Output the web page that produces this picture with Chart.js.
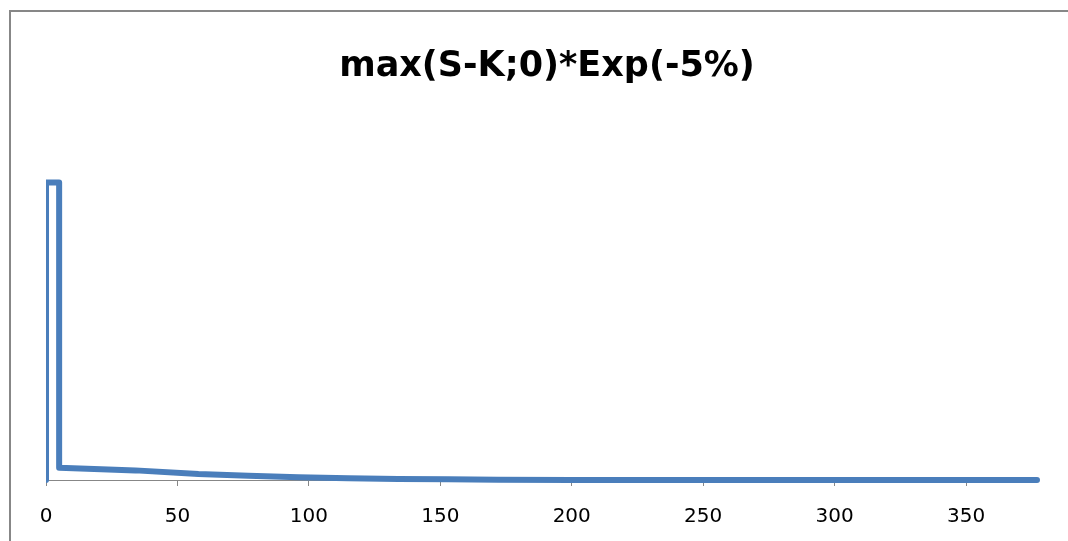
<!DOCTYPE html>
<html>
<head>
<meta charset="utf-8">
<script src="https://cdn.jsdelivr.net/npm/chart.js@4.4.1/dist/chart.umd.min.js"></script>
<style>
  html, body { margin: 0; padding: 0; overflow: hidden; background: #fff; }
  #frame { position: absolute; left: 9px; top: 10px; width: 1059px; height: 531px; border-left: 2px solid #878787; border-top: 2px solid #878787; box-sizing: border-box; }
  #wrap { position: absolute; left: 0; top: 0; width: 1068px; height: 541px; }
</style>
</head>
<body>
<div id="frame"></div>
<div id="wrap"><canvas id="c"></canvas></div>
<script>
// Data
const titleText = 'max(S-K;0)*Exp(-5%)';
const xValues = [0, 0, 5, 5, 21, 34, 58, 77, 96, 115, 134, 153, 172, 200, 250, 300, 377];
const yValues = [0, 80.4, 80.4, 3.3, 2.9, 2.6, 1.6, 1.15, 0.73, 0.46, 0.27, 0.19, 0.08, 0.03, 0.01, 0, 0];
const xTickValues = [0, 50, 100, 150, 200, 250, 300, 350];

const points = xValues.map((x, i) => ({ x: x, y: yValues[i] }));
const fontFamily = '"DejaVu Sans", "Liberation Sans", sans-serif';

new Chart(document.getElementById('c'), {
  type: 'scatter',
  data: {
    datasets: [{
      data: points,
      showLine: true,
      borderColor: '#4A7EBB',
      backgroundColor: '#4A7EBB',
      borderWidth: 6,
      pointRadius: 0,
      pointHoverRadius: 0,
      borderJoinStyle: 'round',
      borderCapStyle: 'round',
      tension: 0,
      clip: { left: 0, top: false, right: false, bottom: false }
    }]
  },
  options: {
    responsive: true,
    maintainAspectRatio: false,
    animation: false,
    events: [],
    layout: { padding: { left: 26, right: 0, top: 0, bottom: 0 } },
    plugins: {
      legend: { display: false },
      tooltip: { enabled: false },
      title: {
        display: true,
        text: titleText,
        color: '#000',
        font: { family: fontFamily, size: 35, weight: 'bold', lineHeight: 1.2 },
        padding: { top: 46, bottom: 22 }
      }
    },
    scales: {
      x: {
        type: 'linear',
        position: 'bottom',
        min: 0,
        max: 377,
        afterBuildTicks: (scale) => { scale.ticks = xTickValues.map(v => ({ value: v })); },
        afterFit: (scale) => { scale.height = 61; },
        grid: { display: true, drawOnChartArea: false, drawTicks: true, tickLength: 6, color: '#878787', lineWidth: 1 },
        border: { display: true, color: '#878787', width: 1 },
        ticks: { color: '#000', padding: 19, maxRotation: 0, autoSkip: false, font: { family: fontFamily, size: 20 } }
      },
      y: {
        position: 'left',
        min: 0,
        max: 100,
        grid: { display: false },
        border: { display: false },
        ticks: { display: false },
        afterFit: (scale) => { scale.width = 20; }
      },
      y2: {
        position: 'right',
        min: 0,
        max: 100,
        grid: { display: false },
        border: { display: false },
        ticks: { display: false },
        afterFit: (scale) => { scale.width = 31; }
      }
    }
  }
});
</script>
</body>
</html>
